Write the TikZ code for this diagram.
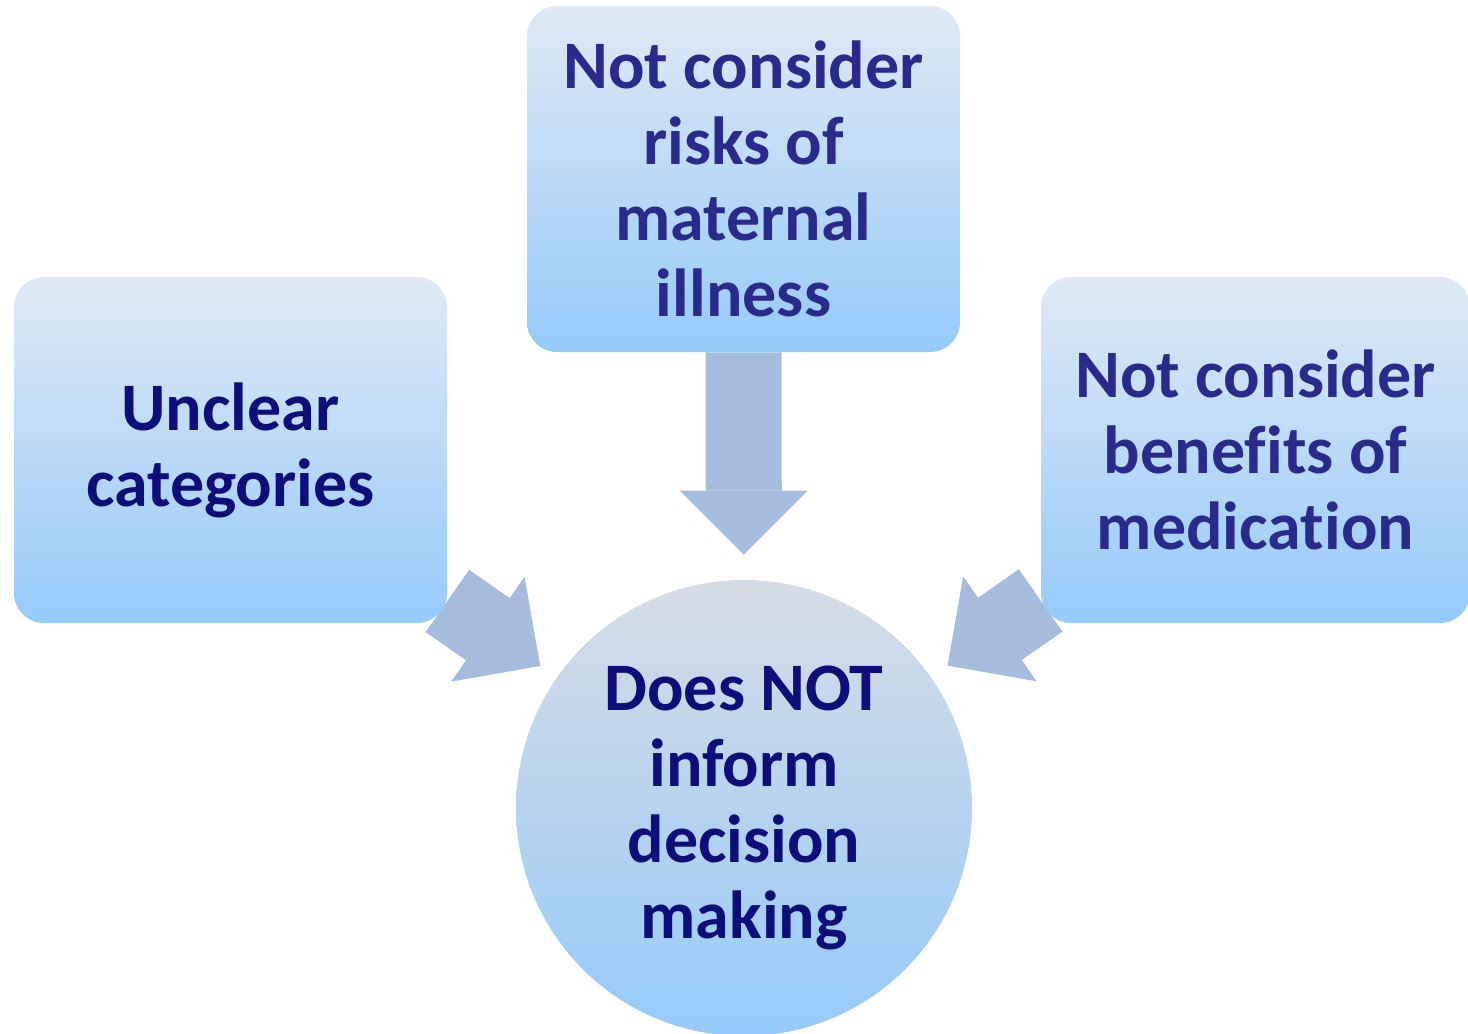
\documentclass[tikz,border=0pt]{standalone}
\usepackage{fontspec}
\setmainfont{Carlito}[Ligatures=NoCommon]
\usepackage{tikz}
\usetikzlibrary{arrows.meta,backgrounds}
\usepackage{xcolor}
\definecolor{boxtop}{RGB}{223,233,245}
\definecolor{boxbot}{RGB}{150,202,250}
\definecolor{circtop}{RGB}{214,220,229}
\definecolor{arrowfill}{RGB}{166,188,222}
\definecolor{navydark}{RGB}{14,14,122}
\definecolor{navymid}{RGB}{42,42,140}
\tikzset{
    box/.style={rounded corners=15pt, top color=boxtop, bottom color=boxbot,
        minimum width=216.5pt, minimum height=173pt, inner sep=0pt,
        align=center, font=\bfseries\fontsize{34}{38}\selectfont},
    outcome/.style={circle, top color=circtop, bottom color=boxbot,
        minimum size=228pt, inner sep=0pt, text=navydark,
        align=center, font=\bfseries\fontsize{34}{38}\selectfont},
    bigarrow/.style={draw=arrowfill, line width=38pt,
        -{Triangle[length=32pt,width=64pt,line width=0pt]}}
}
\begin{document}
\begin{tikzpicture}[x=0.5pt,y=-0.5pt]
            \useasboundingbox (0,0) rectangle (1468,1034);
            \node[box, text=navymid] (risks) at (743.5,179) {Not consider\\risks of\\maternal\\illness};
            \node[box, text=navydark] (categ) at (230.5,450) {Unclear\\categories};
            \node[box, text=navymid, minimum width=214.5pt] (benef) at (1255.5,450) {Not consider\\benefits of\\medication};
            \node[outcome] (decis) at (744,808) {Does NOT\\inform\\decision\\making};
            \begin{scope}[on background layer]
                \draw[bigarrow, shorten >=12.5pt] (risks) -- (decis);
                \draw[bigarrow, shorten >=10pt] (categ) -- (decis);
                \draw[bigarrow, shorten >=10pt] (benef) -- (decis);
            \end{scope}
        \end{tikzpicture}
\end{document}
